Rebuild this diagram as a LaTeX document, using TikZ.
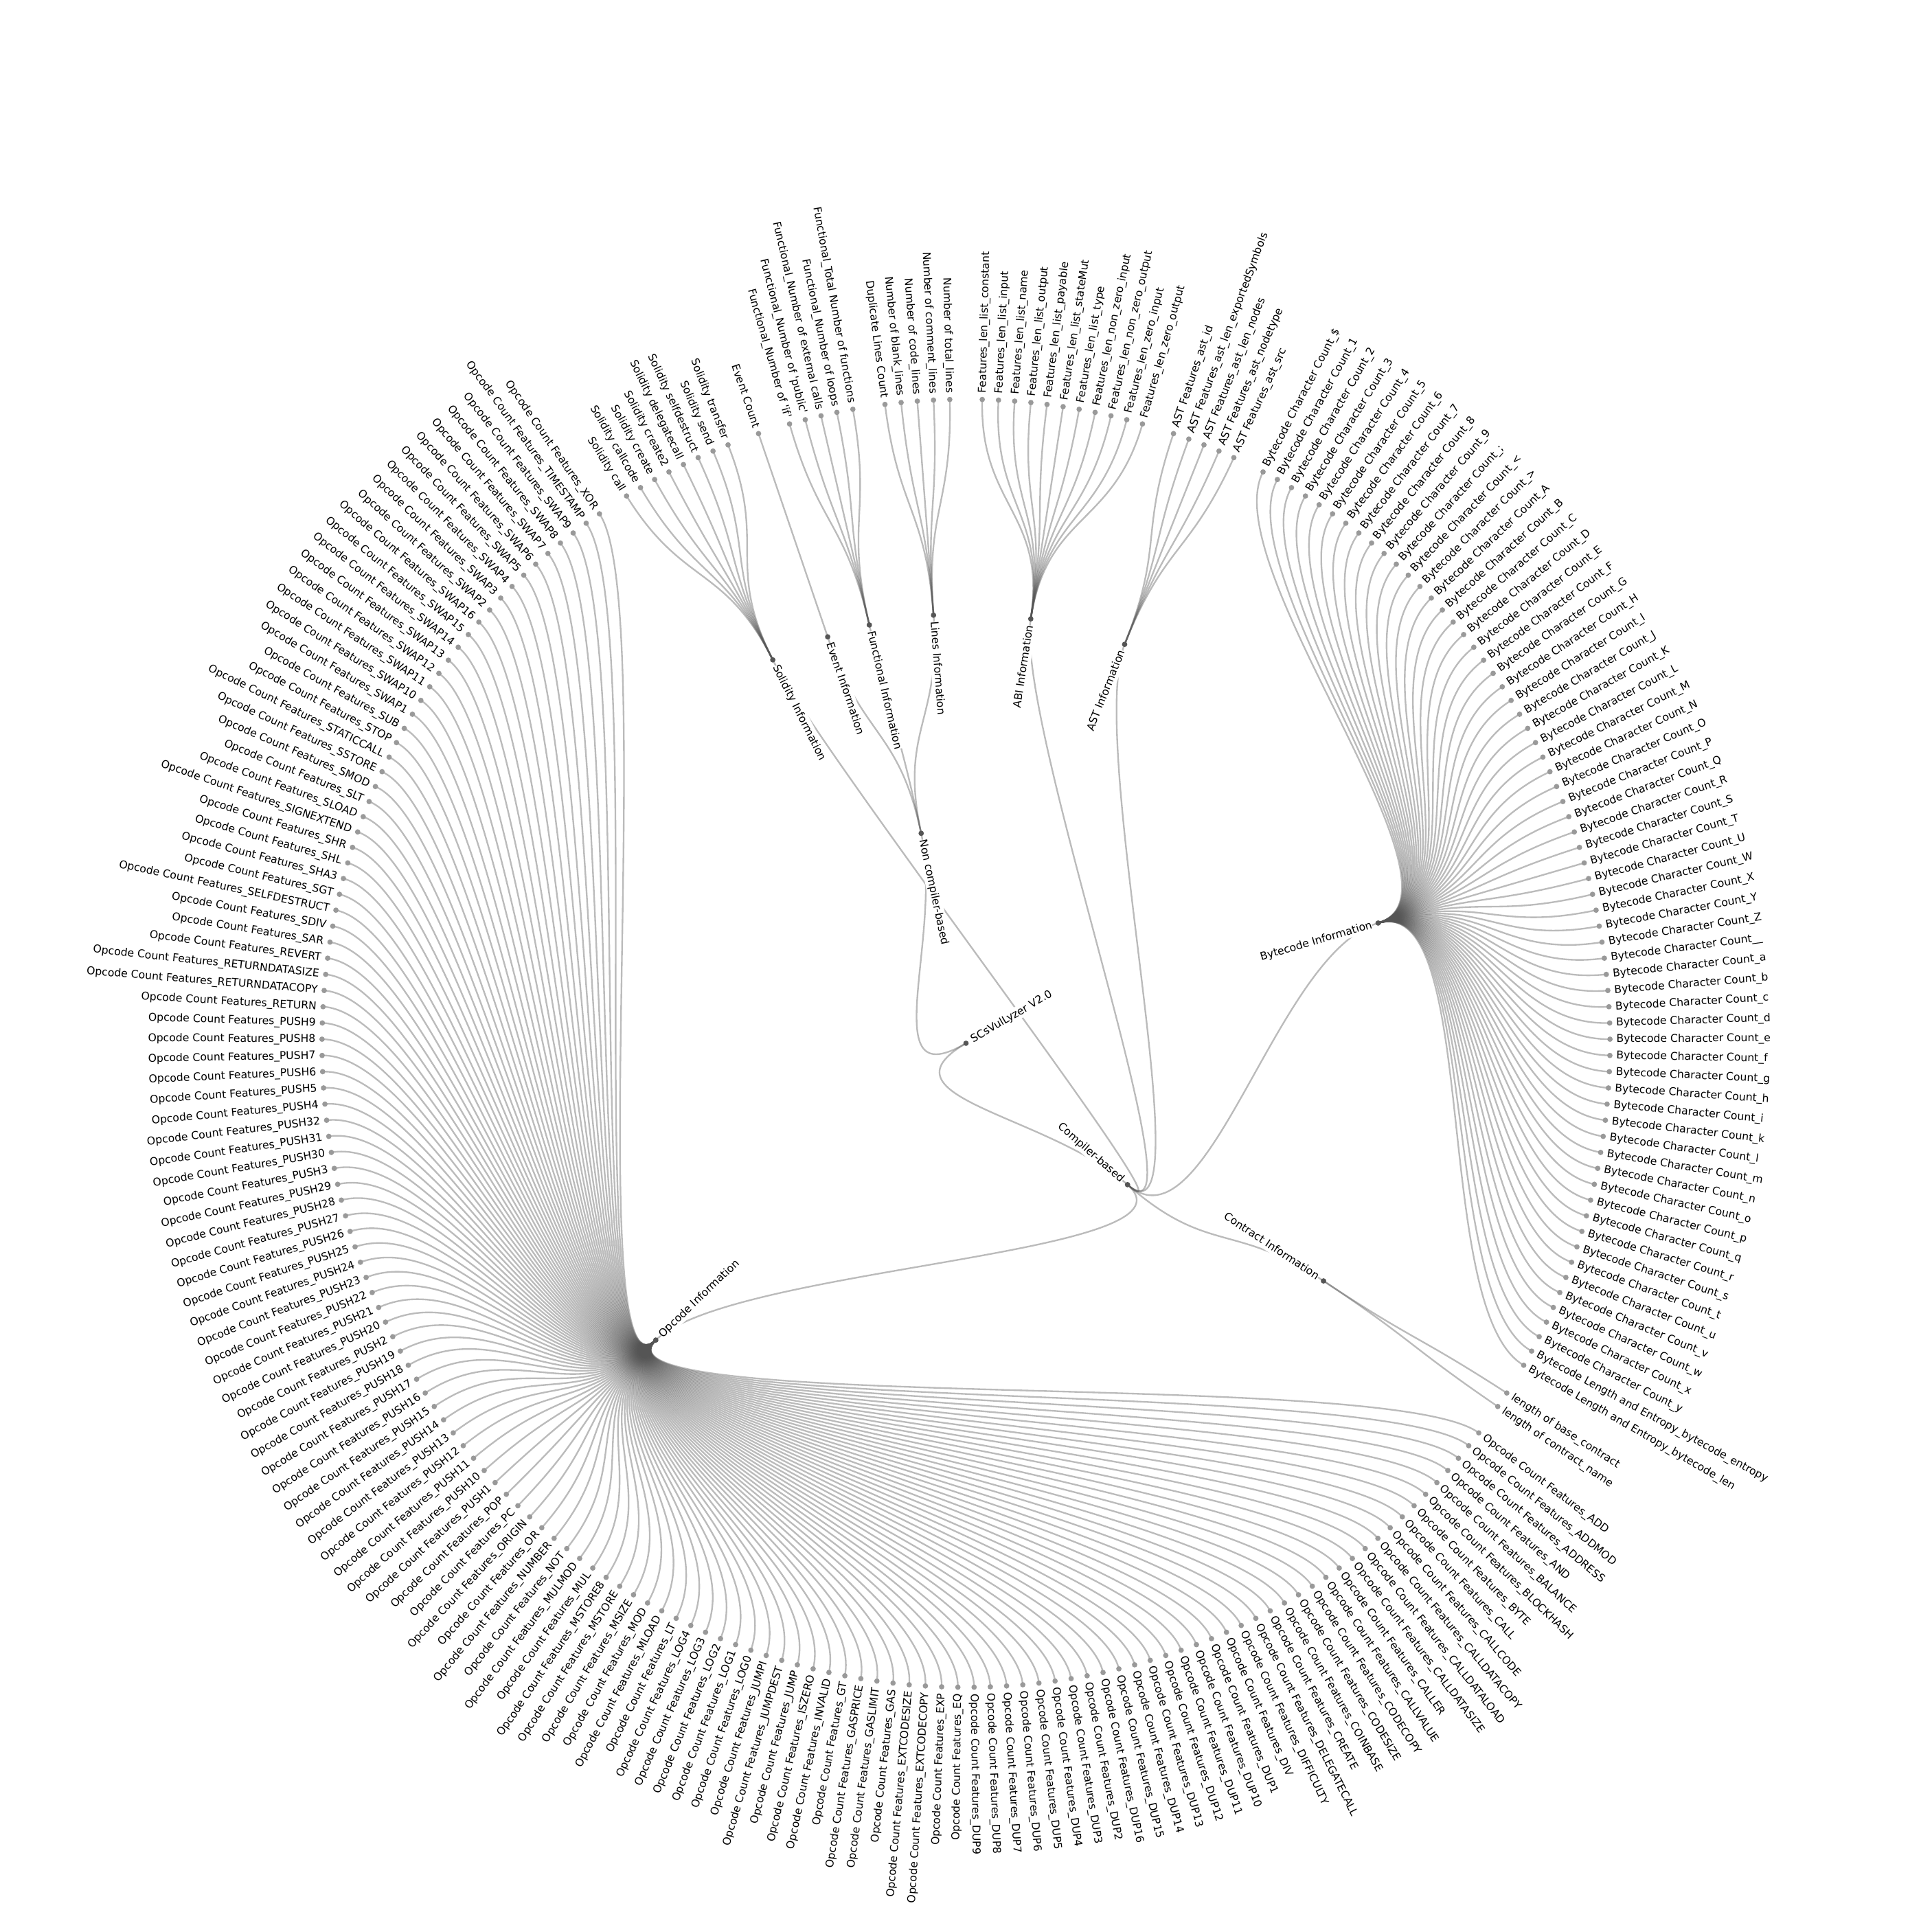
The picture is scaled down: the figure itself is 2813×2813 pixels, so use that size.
\documentclass[tikz,border=0pt]{standalone}
\usepackage{fontspec}
\setmainfont{DejaVu Sans}
\pgfdeclarelayer{bglayer}
\pgfdeclarelayer{edgelayer}
\pgfsetlayers{bglayer,edgelayer,main}
\definecolor{linkc}{HTML}{555555}
\definecolor{leafc}{HTML}{999999}
\definecolor{innc}{HTML}{555555}
\tikzset{
  link/.style={draw=linkc, draw opacity=0.4, line width=2.344pt},
  lbl/.style={font=\fontsize{15.63pt}{18pt}\selectfont, inner sep=0pt, text height=13.4pt, text depth=3.75pt},
  ilbl/.style={lbl, fill=white, inner ysep=1pt},
}
% #1 parent name, #2 parent angle, #3 first slot, #4 prefix, #5 suffix list
\newcommand\leafgroup[5]{%
  \foreach \sfx [count=\k from 0] in {#5} {%
    \pgfmathtruncatemacro\pp{#3+\k}%
    \pgfmathsetmacro\ph{(\pp+1)*1.44578313}%
    \pgfmathsetmacro\al{90-\ph}%
    \coordinate (L\pp) at (\al:937.67pt);%
    \begin{pgfonlayer}{edgelayer}%
      \draw[link] (#1) .. controls (#2:781.39pt) and (\al:781.39pt) .. (L\pp);%
    \end{pgfonlayer}%
    \fill[leafc] (L\pp) circle (3.91pt);%
    \ifdim\ph pt<180pt
      \node[lbl, rotate=\al, anchor=west] (T\pp) at (\al:947.05pt) {#4\sfx};%
    \else
      \pgfmathsetmacro\rt{\al+180}%
      \node[lbl, rotate=\rt, anchor=east] (T\pp) at (\al:947.05pt) {#4\sfx};%
    \fi
  }%
}
\begin{document}
\begin{tikzpicture}[x=1pt,y=1pt]
\begin{pgfonlayer}{bglayer}
\fill[white] (-1406.5,-1294) rectangle (1406.5,1519);
\end{pgfonlayer}
\useasboundingbox (-1406.5,-1294) rectangle (1406.5,1519);

% internal nodes
\coordinate (root) at (0,0);
\coordinate (comp) at (-41.204819:312.56pt);
\coordinate (noncomp) at (102.048193:312.56pt);
\coordinate (abi) at (81.325301:625.11pt);
\coordinate (ast) at (68.313253:625.11pt);
\coordinate (byte) at (16.265060:625.11pt);
\coordinate (contr) at (-33.614458:625.11pt);
\coordinate (opc) at (-136.265060:625.11pt);
\coordinate (sol) at (116.746988:625.11pt);
\coordinate (evt) at (108.795181:625.11pt);
\coordinate (func) at (103.012048:625.11pt);
\coordinate (lines) at (94.337349:625.11pt);

\begin{pgfonlayer}{edgelayer}
\draw[link] (root) .. controls (-149.578313:156.28pt) and (-41.204819:156.28pt) .. (comp);
\draw[link] (root) .. controls (-149.578313:156.28pt) and (102.048193:156.28pt) .. (noncomp);
\draw[link] (comp) .. controls (-41.204819:468.83pt) and (81.325301:468.83pt) .. (abi);
\draw[link] (comp) .. controls (-41.204819:468.83pt) and (68.313253:468.83pt) .. (ast);
\draw[link] (comp) .. controls (-41.204819:468.83pt) and (16.265060:468.83pt) .. (byte);
\draw[link] (comp) .. controls (-41.204819:468.83pt) and (-33.614458:468.83pt) .. (contr);
\draw[link] (comp) .. controls (-41.204819:468.83pt) and (-136.265060:468.83pt) .. (opc);
\draw[link] (comp) .. controls (-41.204819:468.83pt) and (116.746988:468.83pt) .. (sol);
\draw[link] (noncomp) .. controls (102.048193:468.83pt) and (108.795181:468.83pt) .. (evt);
\draw[link] (noncomp) .. controls (102.048193:468.83pt) and (103.012048:468.83pt) .. (func);
\draw[link] (noncomp) .. controls (102.048193:468.83pt) and (94.337349:468.83pt) .. (lines);
\end{pgfonlayer}

% leaves
\leafgroup{abi}{81.325301}{0}{Features\_len\_}{list\_constant,list\_input,list\_name,list\_output,list\_payable,list\_stateMut,list\_type,non\_zero\_input,non\_zero\_output,zero\_input,zero\_output}
\leafgroup{ast}{68.313253}{12}{AST Features\_ast\_}{id,len\_exportedSymbols,len\_nodes,nodetype,src}
\leafgroup{byte}{16.265060}{18}{Bytecode Character Count\_}{\$,1,2,3,4,5,6,7,8,9,;,<,>,A,B,C,D,E,F,G,H,I,J,K,L,M,N,O,P,Q,R,S,T,U,W,X,Y,Z,\_,a,b,c,d,e,f,g,h,i,k,l,m,n,o,p,q,r,s,t,u,v,w,x,y}
\leafgroup{byte}{16.265060}{81}{Bytecode Length and Entropy\_}{bytecode\_entropy,bytecode\_len}
\leafgroup{contr}{-33.614458}{84}{length of }{base\_contract,contract\_name}
\leafgroup{opc}{-136.265060}{87}{Opcode Count Features\_}{ADD,ADDMOD,ADDRESS,AND,BALANCE,BLOCKHASH,BYTE,CALL,CALLCODE,CALLDATACOPY,CALLDATALOAD,CALLDATASIZE,CALLER,CALLVALUE,CODECOPY,CODESIZE,COINBASE,CREATE,DELEGATECALL,DIFFICULTY,DIV,DUP1,DUP10,DUP11,DUP12,DUP13,DUP14,DUP15,DUP16,DUP2,DUP3,DUP4,DUP5,DUP6,DUP7,DUP8,DUP9,EQ,EXP,EXTCODECOPY,EXTCODESIZE,GAS,GASLIMIT,GASPRICE,GT,INVALID,ISZERO,JUMP,JUMPDEST,JUMPI,LOG0,LOG1,LOG2,LOG3,LOG4,LT,MLOAD,MOD,MSIZE,MSTORE,MSTORE8,MUL,MULMOD,NOT,NUMBER,OR,ORIGIN,PC,POP,PUSH1,PUSH10,PUSH11,PUSH12,PUSH13,PUSH14,PUSH15,PUSH16,PUSH17,PUSH18,PUSH19,PUSH2,PUSH20,PUSH21,PUSH22,PUSH23,PUSH24,PUSH25,PUSH26,PUSH27,PUSH28,PUSH29,PUSH3,PUSH30,PUSH31,PUSH32,PUSH4,PUSH5,PUSH6,PUSH7,PUSH8,PUSH9,RETURN,RETURNDATACOPY,RETURNDATASIZE,REVERT,SAR,SDIV,SELFDESTRUCT,SGT,SHA3,SHL,SHR,SIGNEXTEND,SLOAD,SLT,SMOD,SSTORE,STATICCALL,STOP,SUB,SWAP1,SWAP10,SWAP11,SWAP12,SWAP13,SWAP14,SWAP15,SWAP16,SWAP2,SWAP3,SWAP4,SWAP5,SWAP6,SWAP7,SWAP8,SWAP9,TIMESTAMP,XOR}
\leafgroup{sol}{116.746988}{226}{Solidity }{call,callcode,create,create2,delegatecall,selfdestruct,send,transfer}
\leafgroup{evt}{108.795181}{235}{Event }{Count}
\leafgroup{func}{103.012048}{237}{Functional\_}{Number of \textquotesingle if\textquotesingle,Number of \textquotesingle public\textquotesingle,Number of external calls,Number of loops,Total Number of functions}
\leafgroup{lines}{94.337349}{243}{}{Duplicate Lines Count,Number of blank\_lines,Number of code\_lines,Number of comment\_lines,Number of total\_lines}

% internal dots
\foreach \n in {root,comp,noncomp,abi,ast,byte,contr,opc,sol,evt,func,lines}{\fill[innc] (\n) circle (3.91pt);}

% internal labels
\node[ilbl, rotate=30.421687, anchor=west] (troot) at (30.421687:9.38pt) {SCsVulLyzer V2.0};
\node[ilbl, rotate=-41.204819, anchor=east] (tcomp) at (-41.204819:303.18pt) {Compiler-based};
\node[ilbl, rotate=-77.951807, anchor=west] (tnoncomp) at (102.048193:303.18pt) {Non compiler-based};
\node[ilbl, rotate=81.325301, anchor=east] (tabi) at (81.325301:615.73pt) {ABI Information};
\node[ilbl, rotate=68.313253, anchor=east] (tast) at (68.313253:615.73pt) {AST Information};
\node[ilbl, rotate=16.265060, anchor=east] (tbyte) at (16.265060:615.73pt) {Bytecode Information};
\node[ilbl, rotate=-33.614458, anchor=east] (tcontr) at (-33.614458:615.73pt) {Contract Information};
\node[ilbl, rotate=43.734940, anchor=west] (topc) at (-136.265060:615.73pt) {Opcode Information};
\node[ilbl, rotate=-63.253012, anchor=west] (tsol) at (116.746988:615.73pt) {Solidity Information};
\node[ilbl, rotate=-71.204819, anchor=west] (tevt) at (108.795181:615.73pt) {Event Information};
\node[ilbl, rotate=-76.987952, anchor=west] (tfunc) at (103.012048:615.73pt) {Functional Information};
\node[ilbl, rotate=-85.662651, anchor=west] (tlines) at (94.337349:615.73pt) {Lines Information};
\end{tikzpicture}
\end{document}
